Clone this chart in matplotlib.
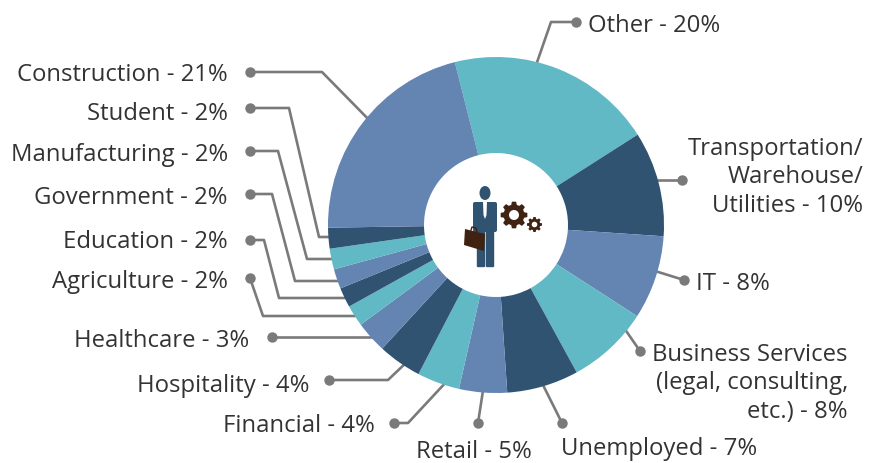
import numpy as np
import matplotlib
matplotlib.use("Agg")
import matplotlib.pyplot as plt
from matplotlib.patches import Ellipse, Polygon, FancyBboxPatch, Circle

# --- data -------------------------------------------------------------
categories = ["Other", "Transportation/Warehouse/Utilities", "IT", "Business Services",
              "Unemployed", "Retail", "Financial", "Hospitality", "Healthcare",
              "Agriculture", "Education", "Government", "Manufacturing", "Student", "Construction"]
shares = [19.9, 10.1, 8.05, 7.9, 6.9, 4.6, 4.1, 4.2, 3.05, 2.05, 1.9, 1.9, 2.0, 2.0, 21.3]
labels = ["Other - 20%", "Transportation/\nWarehouse/\nUtilities - 10%", "IT - 8%",
          "Business Services\n(legal, consulting,\netc.) - 8%", "Unemployed - 7%", "Retail - 5%",
          "Financial - 4%", "Hospitality - 4%", "Healthcare - 3%", "Agriculture - 2%",
          "Education - 2%", "Government - 2%", "Manufacturing - 2%", "Student - 2%",
          "Construction - 21%"]
TEAL, DARK, BLUE = "#61B9C5", "#2F5371", "#6484B2"
slice_colors = [TEAL, DARK, BLUE] * 5

# --- layout (pixels of the 879x464 canvas) ----------------------------
label_pos = [(588, 26, "left"), (863, 177.5, "right"), (696, 284, "left"), (848, 383.5, "right"),
             (561, 449, "left"), (416, 452, "left"), (375, 426, "right"), (310, 386, "right"),
             (249, 341, "right"), (228, 282, "right"), (228, 242, "right"), (228, 198, "right"),
             (228, 155, "right"), (228, 114, "right"), (228, 75, "right")]
leaders = [[(576, 23), (551, 23), (534, 72)],
           [(682, 181), (655, 181)],
           [(684, 281), (655, 272)],
           [(640, 352), (622, 326)],
           [(562, 424), (540, 380)],
           [(478, 424), (484, 385)],
           [(394, 424), (408, 424), (448, 381)],
           [(329, 381), (388, 381), (410, 360)],
           [(272, 338), (380, 338)],
           [(250, 279), (263, 317), (365, 317)],
           [(250, 241), (264, 241), (279, 299), (355, 299)],
           [(250, 195), (272, 195), (295, 282), (345, 282)],
           [(250, 152), (278, 152), (307, 260), (340, 260)],
           [(250, 109), (289, 109), (319, 238), (340, 238)],
           [(250, 73), (322, 73), (378, 130)]]

fig = plt.figure(figsize=(8.79, 4.64), dpi=100)
ax = fig.add_axes([0, 0, 1, 1])

# pie is drawn in a y-down axes, so counter-clockwise on data = clockwise on screen
ax.pie(shares, colors=slice_colors, center=(496, 226), radius=168, startangle=-104.2,
       counterclock=True, wedgeprops=dict(width=168 - 72, linewidth=0), frame=False)
ax.set_xlim(0, 879)
ax.set_ylim(464, 0)
ax.set_aspect("equal")
ax.axis("off")

LINE = "#7A7A7A"
for pts in leaders:
    xs, ys = zip(*pts)
    ax.plot(xs, ys, color=LINE, lw=1.9, solid_capstyle="round", zorder=0.5)
    ax.plot(xs[0], ys[0], "o", color=LINE, ms=7.5, mew=0, zorder=3)

for lab, (x, y, ha) in zip(labels, label_pos):
    ax.text(x, y, lab, ha=ha, va="center", family="Open Sans", fontsize=17.2,
            color="#333333", linespacing=1.26, multialignment=ha)

# --- centre icon ------------------------------------------------------
ax.add_patch(Ellipse((485, 194), 11, 14, color=DARK, zorder=5, lw=0))
ax.add_patch(FancyBboxPatch((475, 205), 20, 26, boxstyle="round,pad=2", color=DARK, zorder=5, lw=0))
ax.add_patch(FancyBboxPatch((478, 225), 6, 42, boxstyle="round,pad=1.2", color=DARK, zorder=5, lw=0))
ax.add_patch(FancyBboxPatch((487, 225), 6, 42, boxstyle="round,pad=1.2", color=DARK, zorder=5, lw=0))
ax.add_patch(Polygon([(483, 203), (487, 203), (486.5, 216), (485, 220), (483.5, 216)],
                     color="white", zorder=6, lw=0))
BROWN = "#3F2212"
ax.add_patch(Polygon([(465, 230), (485, 235), (484, 252), (464, 246)], color=BROWN, zorder=7, lw=0))
ax.plot([471, 472, 476, 477], [231, 228, 229, 233], color=BROWN, lw=1, zorder=7)

def gear(cx, cy, r_body, r_tooth, r_hole, n):
    ang, rad = [], []
    for i in range(n):
        a = 2 * np.pi * i / n
        w = 2 * np.pi / n
        ang += [a - .34 * w, a - .2 * w, a + .2 * w, a + .34 * w]
        rad += [r_body, r_tooth, r_tooth, r_body]
    ang, rad = np.array(ang), np.array(rad)
    ax.add_patch(Polygon(np.c_[cx + rad * np.cos(ang), cy + rad * np.sin(ang)],
                         color=BROWN, zorder=5, lw=0))
    ax.add_patch(Circle((cx, cy), r_hole, color="white", zorder=6, lw=0))

gear(514, 216, 10.5, 13.5, 5, 8)
gear(534.5, 225.5, 5.8, 7.6, 2.8, 8)

fig.savefig("out.png", dpi=100)
